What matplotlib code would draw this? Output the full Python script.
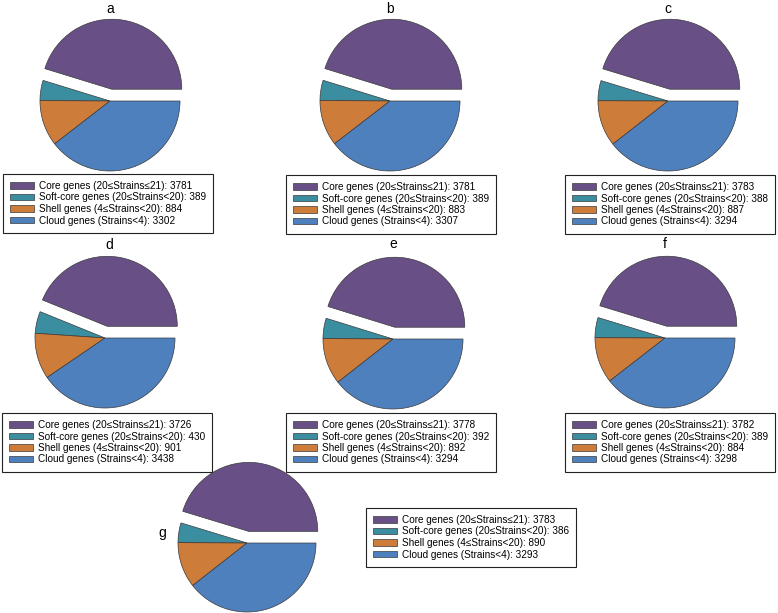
import matplotlib
matplotlib.use("Agg")
import matplotlib.pyplot as plt
from matplotlib.patches import Patch

plt.rcParams['font.family'] = ['Liberation Sans', 'DejaVu Sans']

panel_names = ['a', 'b', 'c', 'd', 'e', 'f', 'g']
categories = ['Core genes (20\u2264Strains\u226421)',
              'Soft-core genes (20\u2264Strains<20)',
              'Shell genes (4\u2264Strains<20)',
              'Cloud genes (Strains<4)']
core_vals = [3781, 3781, 3783, 3726, 3778, 3782, 3783]
softcore_vals = [389, 389, 388, 430, 392, 389, 386]
shell_vals = [884, 883, 887, 901, 892, 884, 890]
cloud_vals = [3302, 3307, 3294, 3438, 3294, 3298, 3293]

colors = ['#685086', '#3A8EA0', '#CD7C3A', '#4D80BD']

W, H = 778, 613
fig = plt.figure(figsize=(W / 100, H / 100), dpi=100)

# layout in pixels (pie centre x, y, radius; title x, y; legend left, top)
pie_pos = [(110, 101, 70), (390, 101, 70), (668, 101, 70),
           (105, 338, 70), (393, 339, 70), (665, 338, 70),
           (247, 543, 69)]
title_pos = [(110, 9), (390, 9), (668, 9),
             (109, 245), (393, 244), (665, 244),
             (162, 533)]
legend_pos = [(3, 174), (286, 175), (565, 175),
              (2, 413), (286, 413), (565, 413),
              (366, 508)]

lim = 1.3
for i, name in enumerate(panel_names):
    cx, cy, r = pie_pos[i]
    S = 2 * lim * r
    ax = fig.add_axes([(cx - S / 2) / W, 1 - (cy + S / 2) / H, S / W, S / H])
    vals = [core_vals[i], softcore_vals[i], shell_vals[i], cloud_vals[i]]
    ax.pie(vals, colors=colors, explode=[0.17, 0, 0, 0], startangle=0,
           counterclock=True, radius=1,
           wedgeprops=dict(edgecolor='#3a3a3a', linewidth=0.5))
    ax.set_xlim(-lim, lim)
    ax.set_ylim(-lim, lim)
    ax.set_axis_off()

    tx, ty = title_pos[i]
    fig.text(tx / W, 1 - ty / H, name, ha='center', va='center', fontsize=10)

    handles = [Patch(facecolor=c, edgecolor='#3a3a3a', linewidth=0.5) for c in colors]
    labels = [f'{cat}: {v}' for cat, v in zip(categories, vals)]
    lx, ly = legend_pos[i]
    leg = fig.legend(handles, labels, loc='upper left',
                     bbox_to_anchor=(lx / W, 1 - ly / H),
                     bbox_transform=fig.transFigure,
                     borderaxespad=0, fontsize=7.2, frameon=True, fancybox=False,
                     borderpad=0.7, labelspacing=0.15, handlelength=2.4,
                     handleheight=0.6, handletextpad=0.5)
    frame = leg.get_frame()
    frame.set_edgecolor('#222222')
    frame.set_linewidth(0.8)
    frame.set_alpha(1)

fig.savefig('out.png', dpi=100)
